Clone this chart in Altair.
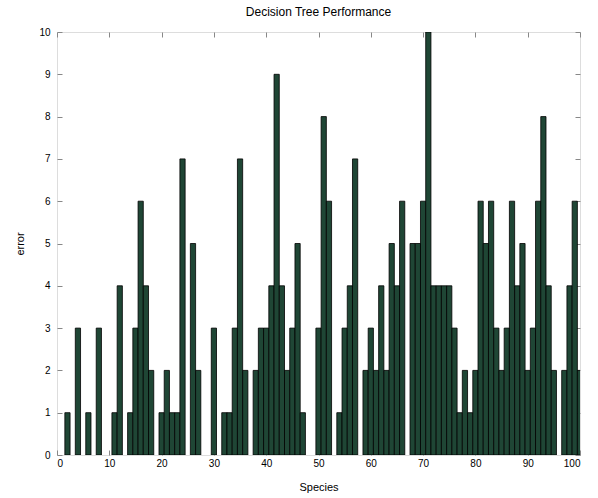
import altair as alt
import pandas as pd

species = list(range(1, 101))
errors = [
    0, 1, 0, 3, 0, 1, 0, 3, 0, 0,
    1, 4, 0, 1, 3, 6, 4, 2, 0, 1,
    2, 1, 1, 7, 0, 5, 2, 0, 0, 3,
    0, 1, 1, 3, 7, 2, 0, 2, 3, 3,
    4, 9, 4, 2, 3, 5, 1, 0, 0, 3,
    8, 6, 0, 1, 3, 4, 7, 0, 2, 3,
    2, 4, 2, 5, 4, 6, 0, 5, 5, 6,
    10, 4, 4, 4, 4, 3, 1, 2, 1, 2,
    6, 5, 6, 3, 2, 3, 6, 4, 5, 2,
    3, 6, 8, 4, 2, 0, 2, 4, 6, 2,
]
x_ticks = list(range(0, 101, 10))
y_ticks = list(range(0, 11))

df = pd.DataFrame({"species": species, "error": errors})

FONT = "Liberation Sans"

xscale = alt.Scale(domain=[0, 100], nice=False, zero=False)
yscale = alt.Scale(domain=[0, 10], nice=False)

bars = (
    alt.Chart(df)
    .transform_filter("datum.error > 0")
    .transform_calculate(x0="datum.species - 0.5", x1="datum.species + 0.5", base="0")
    .mark_rect(color="#1f4635", stroke="black", strokeWidth=0.8, clip=True, opacity=1)
    .encode(
        x=alt.X(
            "x0:Q",
            scale=xscale,
            axis=alt.Axis(
                values=x_ticks,
                orient="bottom",
                offset=-5,
                tickSize=5,
                domain=False,
                labelPadding=3,
                title="Species",
                titlePadding=13,
                titleFontWeight="normal",
                grid=False,
            ),
        ),
        x2="x1:Q",
        y=alt.Y(
            "error:Q",
            scale=yscale,
            axis=alt.Axis(
                values=y_ticks,
                orient="left",
                offset=-5,
                tickSize=5,
                domain=False,
                labelPadding=7,
                title="error",
                titlePadding=13,
                titleFontWeight="normal",
                grid=False,
            ),
        ),
        y2="base:Q",
    )
)

frame = (
    alt.Chart(df)
    .mark_point(opacity=0)
    .encode(
        x=alt.X(
            "species:Q",
            scale=xscale,
            axis=alt.Axis(
                values=x_ticks, orient="top", offset=-5, tickSize=5,
                domain=False, labels=False, title=None, grid=False,
            ),
        ),
        y=alt.Y(
            "error:Q",
            scale=yscale,
            axis=alt.Axis(
                values=y_ticks, orient="right", offset=-5, tickSize=5,
                domain=False, labels=False, title=None, grid=False,
            ),
        ),
    )
)

chart = (
    alt.layer(bars, frame)
    .resolve_axis(x="independent", y="independent")
    .properties(
        width=523,
        height=423,
        title=alt.TitleParams("Decision Tree Performance", fontSize=12, font=FONT,
                              fontWeight="normal", color="black", offset=8),
        autosize=alt.AutoSizeParams(type="none"),
        padding={"left": 57, "top": 32, "right": 18, "bottom": 43},
    )
    .configure_view(stroke="black", strokeWidth=1)
    .configure_axis(
        labelFont=FONT, labelFontSize=12, labelColor="black",
        titleFont=FONT, titleFontSize=12, titleColor="black", titleFontWeight="normal",
        tickColor="black", tickWidth=1,
    )
    .configure(background="white")
)

chart.save("out.html", embed_options={"renderer": "svg", "actions": False})
